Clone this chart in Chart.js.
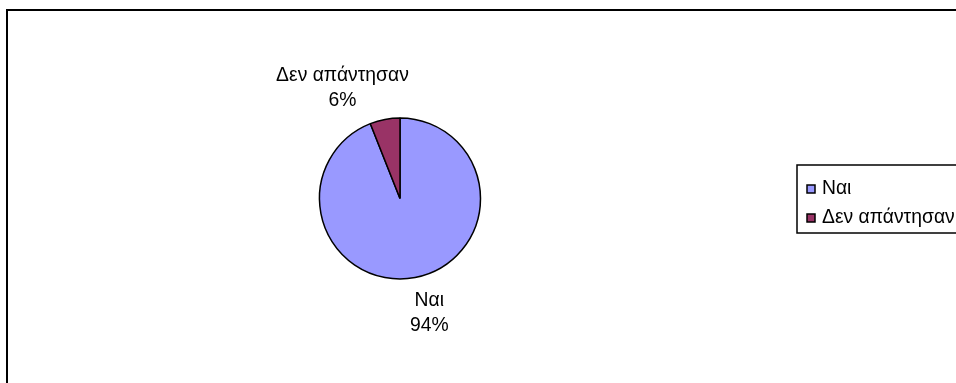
<!DOCTYPE html>
<html>
<head>
<meta charset="utf-8">
<script src="https://cdn.jsdelivr.net/npm/chart.js@4.4.0/dist/chart.umd.min.js"></script>
<style>
  html, body { margin: 0; padding: 0; background: #fff; overflow: hidden; }
  #wrap { width: 956px; height: 383px; }
</style>
</head>
<body>
<div id="wrap"><canvas id="pie" width="956" height="383"></canvas></div>
<script>
// answers and their share in percent
var labels = ["Ναι", "Δεν απάντησαν"];
var percents = [94, 6];
var colors = ["#9999FF", "#993366"];

var FONT = '21px "Liberation Sans", Arial, sans-serif';
var SQUEEZE = 0.92; // text is drawn a little narrow

function drawText(ctx, text, x, y, align) {
  var w = ctx.measureText(text).width * SQUEEZE;
  var x0 = align === 'center' ? x - w / 2 : x;
  ctx.save();
  ctx.translate(x0, y);
  ctx.scale(SQUEEZE, 1);
  ctx.textAlign = 'left';
  ctx.fillText(text, 0, 0);
  ctx.restore();
}

// sheet frame: only the top and left edges fall inside the page
var frame = {
  id: 'frame',
  beforeDraw: function (chart) {
    var ctx = chart.ctx;
    ctx.save();
    ctx.fillStyle = '#fff';
    ctx.fillRect(0, 0, chart.width, chart.height);
    ctx.strokeStyle = '#000';
    ctx.lineWidth = 2;
    ctx.beginPath();
    ctx.moveTo(7, chart.height);
    ctx.lineTo(7, 10);
    ctx.lineTo(chart.width, 10);
    ctx.stroke();
    ctx.restore();
  }
};

// "name / percent" labels outside each slice
var sliceLabels = {
  id: 'sliceLabels',
  afterDatasetsDraw: function (chart) {
    var ctx = chart.ctx;
    var meta = chart.getDatasetMeta(0);
    ctx.save();
    ctx.font = FONT;
    ctx.fillStyle = '#000';
    ctx.textBaseline = 'alphabetic';
    var lineH = 25, capH = 15;
    meta.data.forEach(function (arc, i) {
      var p = arc.getProps(['x', 'y', 'startAngle', 'endAngle', 'outerRadius'], true);
      var mid = (p.startAngle + p.endAngle) / 2;
      var dx = Math.cos(mid), dy = Math.sin(mid);
      var lines = [labels[i], percents[i] + '%'];
      var w = Math.max.apply(null, lines.map(function (t) { return ctx.measureText(t).width * SQUEEZE; }));
      var ax = p.x + dx * (p.outerRadius + 14);
      var ay = p.y + dy * (p.outerRadius + 14);
      var cx = ax + (dx < 0 ? -1 : 1) * w * 0.3;
      var first = dy < 0 ? ay - lineH : ay + capH;
      lines.forEach(function (t, j) {
        drawText(ctx, t, cx, first + j * lineH, 'center');
      });
    });
    ctx.restore();
  }
};

// boxed legend on the right
var legendBox = {
  id: 'legendBox',
  afterDraw: function (chart) {
    var ctx = chart.ctx;
    var left = 797, top = 165, bottom = 233;
    ctx.save();
    ctx.strokeStyle = '#000';
    ctx.lineWidth = 1.5;
    ctx.strokeRect(left, top, chart.width, bottom - top);
    ctx.font = FONT;
    ctx.textBaseline = 'alphabetic';
    labels.forEach(function (name, i) {
      var base = 194 + i * 29;
      ctx.fillStyle = colors[i];
      ctx.fillRect(807, base - 9, 8, 8);
      ctx.strokeStyle = '#000';
      ctx.lineWidth = 1.5;
      ctx.strokeRect(807, base - 9, 8, 8);
      ctx.fillStyle = '#000';
      drawText(ctx, name, 822, base, 'left');
    });
    ctx.restore();
  }
};

new Chart(document.getElementById('pie').getContext('2d'), {
  type: 'pie',
  data: {
    labels: labels,
    datasets: [{
      data: percents,
      backgroundColor: colors,
      borderColor: '#000',
      borderWidth: 1.5,
      hoverOffset: 0
    }]
  },
  options: {
    responsive: false,
    animation: false,
    devicePixelRatio: 1,
    radius: 80.5,
    layout: { padding: { left: 200, right: 356, top: 114, bottom: 100 } },
    plugins: {
      legend: { display: false },
      tooltip: { enabled: false }
    }
  },
  plugins: [frame, sliceLabels, legendBox]
});
</script>
</body>
</html>
